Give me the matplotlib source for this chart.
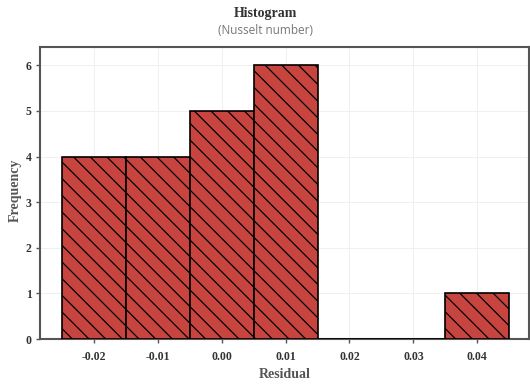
import matplotlib
matplotlib.use('Agg')
import matplotlib.pyplot as plt

# histogram of residuals (Nusselt number)
bin_left = [-0.025, -0.015, -0.005, 0.005, 0.015, 0.025, 0.035]
counts = [4, 4, 5, 6, 0, 0, 1]
bin_width = 0.01
x_ticks = [-0.02, -0.01, 0.00, 0.01, 0.02, 0.03, 0.04]
x_tick_labels = ['-0.02', '-0.01', '0.00', '0.01', '0.02', '0.03', '0.04']
y_ticks = [0, 1, 2, 3, 4, 5, 6]

plt.rcParams['hatch.linewidth'] = 0.9
plt.rcParams['hatch.color'] = 'black'

fig = plt.figure(figsize=(5.3, 3.85), dpi=100)
ax = fig.add_axes([40 / 530, 46 / 385, 489 / 530, 292 / 385])

ax.bar(bin_left, counts, width=bin_width, align='edge', color='#c8453f',
       edgecolor='black', linewidth=1.2, hatch='\\\\', zorder=3)

ax.set_xlim(-0.02845, 0.0481)
ax.set_ylim(0, 6.4)
ax.set_xticks(x_ticks)
ax.set_xticklabels(x_tick_labels)
ax.set_yticks(y_ticks)
ax.grid(True, color='#f0f0f0', linewidth=0.8, zorder=0)

for lab in ax.get_xticklabels() + ax.get_yticklabels():
    lab.set_fontfamily('Liberation Serif')
    lab.set_fontweight('bold')
    lab.set_fontsize(8.5)
    lab.set_color('#333333')
ax.tick_params(axis='both', length=3, width=1, color='#555555', pad=3)
ax.tick_params(axis='x', pad=6)

for s in ax.spines.values():
    s.set_color('#555555')
    s.set_linewidth(1.5)

# axis titles placed in figure pixels
fig.text(0.5 * (40 + 529) / 530, 1 - 374 / 385, 'Residual', ha='center', va='center',
         fontfamily='Liberation Serif', fontweight='bold', fontsize=10, color='#555555')
fig.text(15 / 530, 1 - 190 / 385, 'Frequency', ha='center', va='center', rotation=90,
         fontfamily='Liberation Serif', fontweight='bold', fontsize=10, color='#555555')

fig.text(0.5, 1 - 14 / 385, 'Histogram', ha='center', va='center',
         fontfamily='Liberation Serif', fontweight='bold', fontsize=10, color='#333333')
fig.text(0.5, 1 - 31 / 385, '(Nusselt number)', ha='center', va='center',
         fontfamily='Open Sans', fontsize=8.5, color='#777777')

fig.savefig('out.png', dpi=100)
